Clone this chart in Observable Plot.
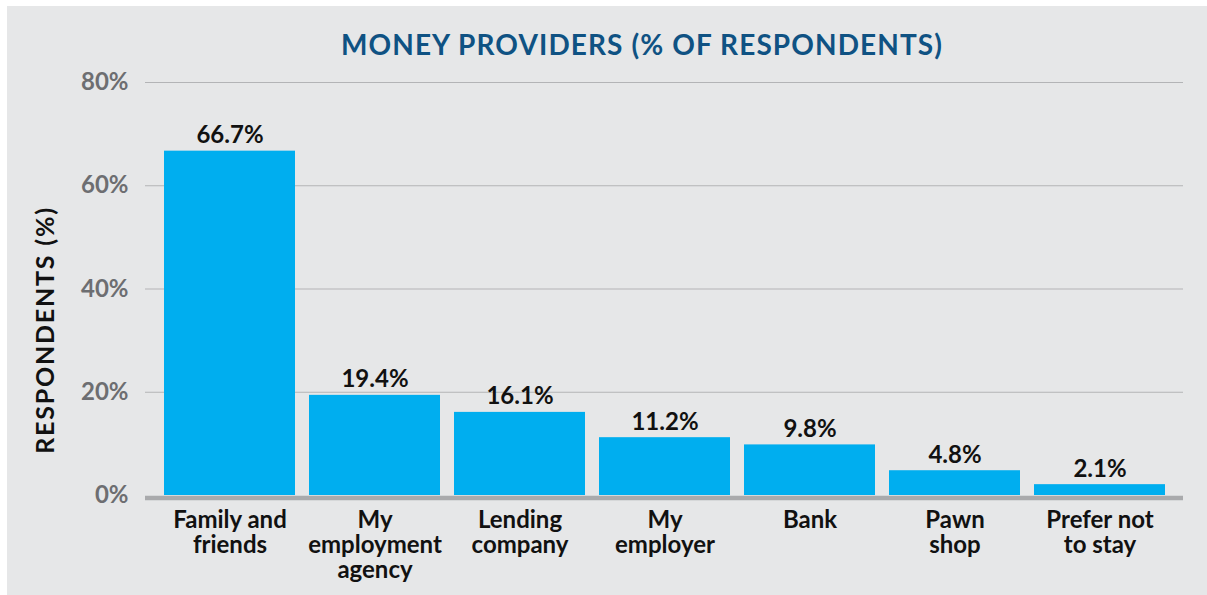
<!DOCTYPE html>
<html>
<head>
<meta charset="utf-8">
<script src="https://cdn.jsdelivr.net/npm/d3@7"></script>
<script src="https://cdn.jsdelivr.net/npm/@observablehq/plot@0.6"></script>
<style>
  html, body { margin: 0; padding: 0; background: #ffffff; }
  #panel { position: absolute; left: 7px; top: 6px; width: 1200px; height: 589px; background: #e6e7e8; overflow: hidden; font-family: Lato, "Open Sans", sans-serif; }
  #title { position: relative; height: 60px; box-sizing: border-box; padding-top: 24px; font-size: 28px; line-height: 1; font-weight: 700; color: #0f5283; letter-spacing: 1.1px; }
  #title span { position: absolute; left: 635px; transform: translateX(-50%); white-space: nowrap; }
  #ylabel { position: absolute; left: 37px; top: 324px; transform: translate(-50%, -50%) rotate(-90deg); font-size: 25px; font-weight: 700; color: #111; white-space: nowrap; letter-spacing: 1.8px; }
  #chart svg { display: block; overflow: visible; }
</style>
</head>
<body>
<div id="panel">
  <div id="title"><span>MONEY PROVIDERS (% OF RESPONDENTS)</span></div>
  <div id="ylabel">RESPONDENTS (%)</div>
  <div id="chart"></div>
</div>
<script>
const categories = ["Family and\nfriends", "My\nemployment\nagency", "Lending\ncompany", "My\nemployer", "Bank", "Pawn\nshop", "Prefer not\nto stay"];
const values = [66.7, 19.4, 16.1, 11.2, 9.8, 4.8, 2.1];
const yTicks = [0, 20, 40, 60, 80];
const gridTicks = [20, 40, 60, 80];

const data = categories.map((c, i) => ({category: c, value: values[i]}));

const chart = Plot.plot({
  width: 1200,
  height: 529,
  marginLeft: 138,
  marginRight: 24,
  marginTop: 16,
  marginBottom: 100,
  style: {background: "transparent", fontFamily: "Lato, 'Open Sans', sans-serif", fontWeight: 700, fontSize: "24px", color: "#6d6e71", overflow: "visible"},
  x: {domain: categories, paddingInner: 0.1, paddingOuter: 0.115, axis: null},
  y: {domain: [0, 80], ticks: yTicks, tickFormat: d => d + "%", tickSize: 0, tickPadding: 17, label: null},
  marks: [
    Plot.ruleY(gridTicks, {stroke: "#b3b4b6", strokeWidth: 1.2}),
    Plot.barY(data, {x: "category", y: "value", fill: "#00aeef"}),
    Plot.ruleY([0], {stroke: "#a9aaac", strokeWidth: 4.5, dy: 2.5}),
    Plot.text(data, {x: "category", y: "value", text: d => d.value.toFixed(1) + "%", dy: -8, lineAnchor: "bottom", fill: "#111", fontSize: 24, fontWeight: 700}),
    Plot.text(data, {x: "category", y: () => 0, text: "category", dy: 15, lineAnchor: "top", lineHeight: 1.04, fill: "#111", fontSize: 24, fontWeight: 700})
  ]
});
document.getElementById("chart").appendChild(chart);
</script>
</body>
</html>
